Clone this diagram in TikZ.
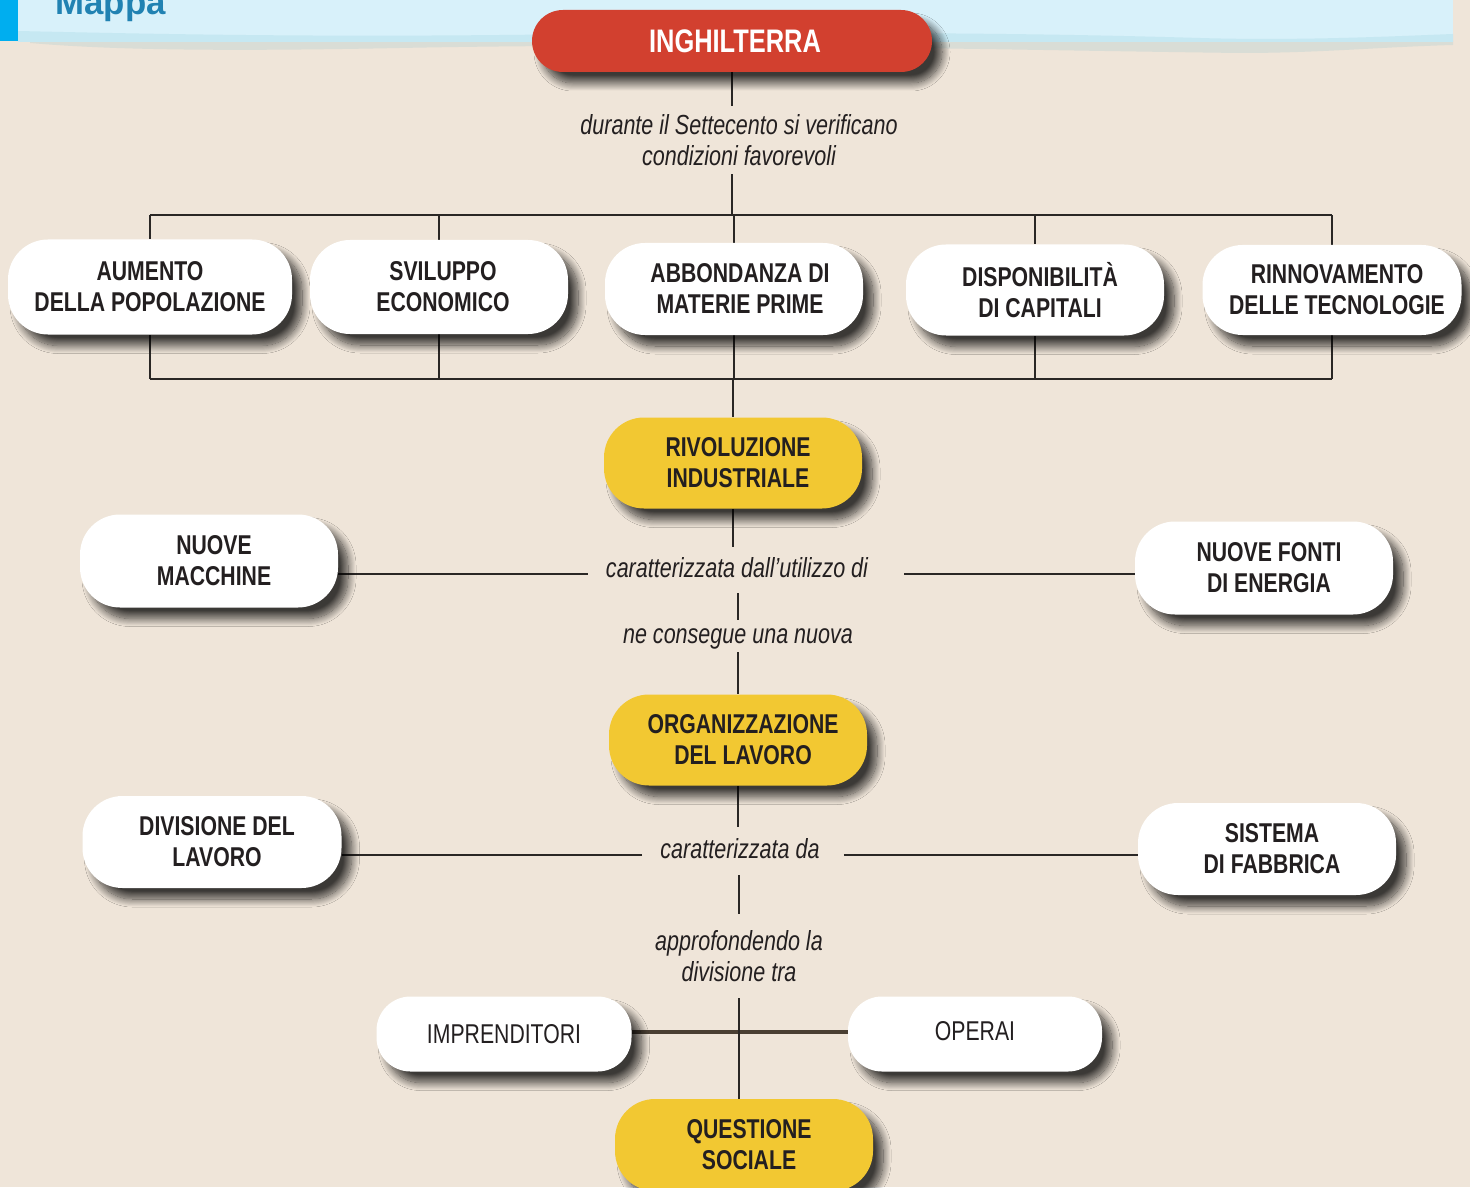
\documentclass[tikz,border=0pt]{standalone}
\usepackage{fontspec}
\setmainfont{Liberation Sans}[FakeStretch=0.78]
\newfontfamily\mapfont{Liberation Sans}
\usetikzlibrary{shadows.blur,backgrounds}
\definecolor{bg}{HTML}{EFE5D9}
\definecolor{skyA}{HTML}{D8F1FA}
\definecolor{skyB}{HTML}{C6E8F2}
\definecolor{skyC}{HTML}{D9DDD6}
\definecolor{barblue}{HTML}{00AEEF}
\definecolor{mapblue}{HTML}{2182B2}
\definecolor{inkc}{HTML}{231F20}
\definecolor{redn}{HTML}{D2402F}
\definecolor{yelln}{HTML}{F2C832}
\definecolor{linec}{HTML}{2A2725}
\definecolor{brownl}{HTML}{4A3F33}
\tikzset{
  pill/.style={rectangle, rounded corners=20pt, inner sep=0pt, align=center, text=inkc,
    font=\bfseries\fontsize{13.6}{15.5}\selectfont,
    blur shadow={shadow xshift=5pt, shadow yshift=-5.5pt, shadow blur radius=4pt,
      shadow blur steps=16, shadow opacity=75}},
  wpill/.style={pill, fill=white, minimum width=129pt, minimum height=46.5pt},
  ypill/.style={pill, fill=yelln, minimum width=129pt, minimum height=45.5pt},
  lab/.style={font=\itshape\fontsize{13.8}{15.5}\selectfont, text=inkc, align=center, inner xsep=9pt},
  onelab/.style={lab, text height=10pt, text depth=3pt},
  conn/.style={draw=linec, line width=1pt},
  thickconn/.style={draw=brownl, line width=2pt},
}
\begin{document}
\begin{tikzpicture}[x=0.5pt,y=-0.5pt]
\useasboundingbox (0,0) rectangle (1470,1187);
\clip (0,0) rectangle (1470,1187);

% header title
\node[anchor=base west, inner sep=0pt, text=mapblue, font=\mapfont\bfseries\fontsize{17.4}{20}\selectfont] (title) at (55,15) {Mappa};

% main nodes
\node[pill, fill=redn, text=white, minimum width=200pt, minimum height=31pt, rounded corners=15.5pt,
  font=\bfseries\fontsize{16.3}{18}\selectfont] (ing) at (732,41) {\hspace{3pt}INGHILTERRA};

\node[lab, inner ysep=4pt] (lab1) at (739,140) {durante il Settecento si verificano\\condizioni favorevoli};

\node[wpill, minimum width=142pt, minimum height=47.5pt] (n1) at (150,287) {AUMENTO\\DELLA POPOLAZIONE};
\node[wpill, minimum height=47pt] (n2) at (439,287) {\hspace{4pt}SVILUPPO\\\hspace{4pt}ECONOMICO};
\node[wpill, minimum height=46pt] (n3) at (734,289) {\hspace{6pt}ABBONDANZA DI\\\hspace{6pt}MATERIE PRIME};
\node[wpill, minimum height=45.5pt] (n4) at (1035,290) {\hspace{5pt}DISPONIBILITÀ\\\hspace{5pt}DI CAPITALI};
\node[wpill, minimum width=129.5pt, minimum height=45pt] (n5) at (1332,290) {\hspace{5pt}RINNOVAMENTO\\\hspace{5pt}DELLE TECNOLOGIE};

\node[ypill] (rivo) at (733,463) {\hspace{5pt}RIVOLUZIONE\\\hspace{5pt}INDUSTRIALE};

\node[onelab, inner ysep=5pt] (lab2) at (737,570) {caratterizzata dall’utilizzo di};
\node[wpill] (nm) at (209,561) {\hspace{5pt}NUOVE\\\hspace{5pt}MACCHINE};
\node[wpill] (nf) at (1264,568) {\hspace{5pt}NUOVE FONTI\\\hspace{5pt}DI ENERGIA};

\node[onelab, inner ysep=1.5pt] (lab3) at (738,636) {ne consegue una nuova};

\node[ypill] (org) at (738,740) {\hspace{5pt}ORGANIZZAZIONE\\\hspace{5pt}DEL LAVORO};

\node[onelab, inner ysep=5.5pt] (lab4) at (740,851) {caratterizzata da};
\node[wpill, minimum width=129.5pt, minimum height=46pt] (div) at (212,842) {\hspace{5pt}DIVISIONE DEL\\\hspace{5pt}LAVORO};
\node[wpill, minimum height=46pt] (sis) at (1267,849) {\hspace{5pt}SISTEMA\\\hspace{5pt}DI FABBRICA};

\node[lab, inner ysep=8pt] (lab5) at (739,956) {approfondendo la\\divisione tra};

\node[pill, fill=white, minimum width=127.5pt, minimum height=37.5pt, rounded corners=17pt,
  font=\fontsize{13.6}{15.5}\selectfont] (imp) at (504,1034) {IMPRENDITORI};
\node[pill, fill=white, minimum width=127pt, minimum height=37.5pt, rounded corners=17pt,
  font=\fontsize{13.6}{15.5}\selectfont] (op) at (975,1034) {\raisebox{3pt}{OPERAI}};

\node[ypill, minimum height=46pt] (qs) at (744,1145) {\hspace{5pt}QUESTIONE\\\hspace{5pt}SOCIALE};

\coordinate (busT) at (733,215);
\coordinate (busB) at (733,379);

\begin{pgfonlayer}{background}
% background and header band
\fill[bg] (0,0) rectangle (1470,1187);
\fill[skyA] (18,0) rectangle (1453,42);
\fill[skyC] (30,41) -- (1453,41) -- (1453,45)
  .. controls (1380,47) and (1320,53) .. (1240,53)
  .. controls (1000,50) and (700,42) .. (400,48)
  .. controls (200,52) and (100,49) .. (30,43) -- cycle;
\fill[skyB] (18,31) .. controls (150,34) and (300,37) .. (500,35)
  .. controls (800,32) and (1000,32) .. (1200,38)
  .. controls (1300,41) and (1400,36) .. (1453,34) -- (1453,42) -- (18,42) -- cycle;
\fill[barblue] (0,0) rectangle (18,41);

% connectors
\draw[conn] (ing.south) -- (ing.south |- lab1.north);
\draw[conn] (ing.south |- lab1.south) -- (ing.south |- busT);
\draw[conn] (n1.north |- busT) -- (n5.north |- busT);
\foreach \n in {n1,n2,n3,n4,n5}{
  \draw[conn] (\n.north) -- (\n.north |- busT);
  \draw[conn] (\n.south) -- (\n.south |- busB);
}
\draw[conn] (n1.south |- busB) -- (n5.south |- busB);
\draw[conn] (rivo.north |- busB) -- (rivo.north);

\draw[conn] (rivo.south) -- (rivo.south |- lab2.north);
\draw[conn] ([yshift=-2pt]lab2.west) -- ([yshift=-2pt]lab2.west -| nm.east);
\draw[conn] ([xshift=9pt,yshift=-2pt]lab2.east) -- ([yshift=-2pt]lab2.east -| nf.west);
\draw[conn] (lab3.north |- lab2.south) -- (lab3.north);
\draw[conn] (lab3.south) -- (lab3.south |- org.north);

\draw[conn] (org.south) -- (org.south |- lab4.north);
\draw[conn] ([yshift=-2pt]lab4.west) -- ([yshift=-2pt]lab4.west -| div.east);
\draw[conn] ([xshift=3pt,yshift=-2pt]lab4.east) -- ([yshift=-2pt]lab4.east -| sis.west);
\draw[conn] (lab5.north |- lab4.south) -- (lab5.north);

\draw[thickconn] ([yshift=1pt]imp.east) -- ([yshift=1pt]op.west);
\draw[conn] (lab5.south) -- (lab5.south |- qs.north);
\end{pgfonlayer}
\end{tikzpicture}
\end{document}
